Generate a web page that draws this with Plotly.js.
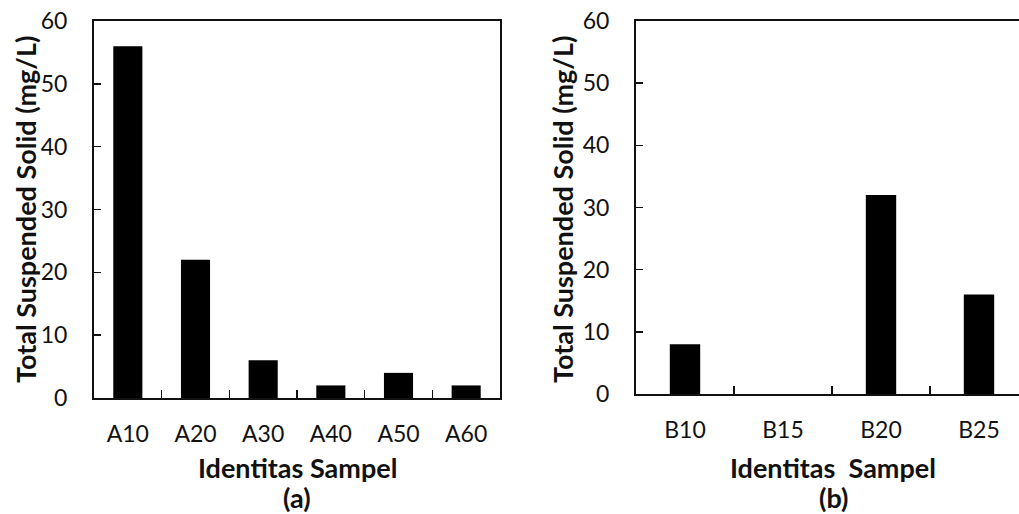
<!DOCTYPE html>
<html>
<head>
<meta charset="utf-8">
<script src="https://cdn.plot.ly/plotly-3.0.1.min.js"></script>
<style>html,body{margin:0;padding:0;background:#fff;}#chart{width:1019px;height:514px;}</style>
</head>
<body>
<div id="chart"></div>
<script>
// Data
const categoriesA = ["A10", "A20", "A30", "A40", "A50", "A60"];
const valuesA = [56, 22, 6, 2, 4, 2];
const categoriesB = ["B10", "B15", "B20", "B25"];
const valuesB = [8, 0, 32, 16];
const yTicks = [0, 10, 20, 30, 40, 50, 60];
const yTitle = "Total Suspended Solid (mg/L)";
const xTitleA = "Identitas Sampel";
const xTitleB = "Identitas\u00a0\u00a0Sampel";
const panelA = "(a)";
const panelB = "(b)";

const W = 1019, H = 514;
const FONT = "Lato, 'Open Sans', sans-serif";
const LINE = "#111";

const traces = [
  {type: "bar", x: categoriesA, y: valuesA, xaxis: "x", yaxis: "y",
   marker: {color: "#000", line: {width: 0}}, width: 0.43, hoverinfo: "x+y"},
  {type: "bar", x: categoriesB, y: valuesB, xaxis: "x2", yaxis: "y2",
   marker: {color: "#000", line: {width: 0}}, width: 0.31, hoverinfo: "x+y"}
];

const tickFont = {family: FONT, size: 23, color: "#111"};

function yAxis(domain, anchor, mirror) {
  return {
    domain: domain, anchor: anchor, range: [0, 60], tickvals: yTicks,
    ticks: "inside", ticklen: 7, tickwidth: 1.5, tickcolor: LINE,
    showline: true, linecolor: LINE, linewidth: 2, mirror: mirror,
    showgrid: false, zeroline: false, tickfont: tickFont,
    ticklabelstandoff: 20, fixedrange: true
  };
}
function xAxis(domain, anchor, range) {
  return {
    domain: domain, anchor: anchor, type: "category", range: range,
    ticks: "inside", tickson: "boundaries", ticklen: 8, tickwidth: 1.5, tickcolor: LINE,
    showline: true, linecolor: LINE, linewidth: 2, mirror: true,
    showgrid: false, zeroline: false, tickfont: tickFont,
    ticklabelstandoff: 14, fixedrange: true
  };
}

const boldFont = {family: FONT, size: 27, color: "#111", weight: "bold"};

const layout = {
  width: W, height: H,
  margin: {l: 0, r: 0, t: 0, b: 0},
  paper_bgcolor: "#fff", plot_bgcolor: "#fff",
  showlegend: false, bargap: 0.5,
  xaxis: xAxis([94 / W, 500 / W], "y", [-0.5, 5.5]),
  yaxis: yAxis([1 - 398 / H, 1 - 21 / H], "x", true),
  xaxis2: xAxis([636 / W, 1], "y2", [-0.5, -0.5 + (W - 636) / 98]),
  yaxis2: yAxis([1 - 394 / H, 1 - 21 / H], "x2", false),
  annotations: [
    {text: "<b>" + yTitle + "</b>", xref: "paper", yref: "paper", x: 25 / W, y: 1 - 210 / H,
     textangle: -90, showarrow: false, xanchor: "center", yanchor: "middle", font: boldFont},
    {text: "<b>" + yTitle + "</b>", xref: "paper", yref: "paper", x: 562 / W, y: 1 - 210 / H,
     textangle: -90, showarrow: false, xanchor: "center", yanchor: "middle", font: boldFont},
    {text: "<b>" + xTitleA + "</b>", xref: "paper", yref: "paper", x: 297 / W, y: 1 - 467 / H,
     showarrow: false, xanchor: "center", yanchor: "middle", font: boldFont},
    {text: "<b>" + xTitleB + "</b>", xref: "paper", yref: "paper", x: 833 / W, y: 1 - 467 / H,
     showarrow: false, xanchor: "center", yanchor: "middle", font: boldFont},
    {text: "<b>" + panelA + "</b>", xref: "paper", yref: "paper", x: 297 / W, y: 1 - 497 / H,
     showarrow: false, xanchor: "center", yanchor: "middle", font: boldFont},
    {text: "<b>" + panelB + "</b>", xref: "paper", yref: "paper", x: 833 / W, y: 1 - 497 / H,
     showarrow: false, xanchor: "center", yanchor: "middle", font: boldFont}
  ]
};

Plotly.newPlot("chart", traces, layout, {displayModeBar: false, staticPlot: true});
</script>
</body>
</html>
